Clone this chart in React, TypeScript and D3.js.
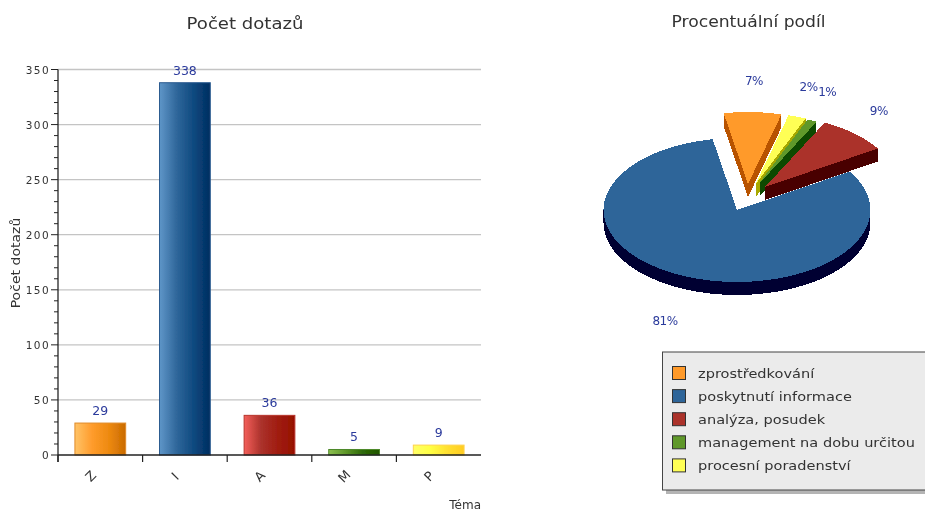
import React from "react";
import * as d3 from "d3";

const categories = ["Z", "I", "A", "M", "P"];
const counts = [29, 338, 36, 5, 9];
const themes = ["zprostředkování", "poskytnutí informace", "analýza, posudek", "management na dobu určitou", "procesní poradenství"];
const yTicks = [0, 50, 100, 150, 200, 250, 300, 350];
const minorTicks = d3.range(0, 351, 10);

const topColors = ["#ff9a2a", "#2e6599", "#ab322c", "#5f982a", "#ffff55"];
const sideColors = ["#b85200", "#000033", "#4a0000", "#0c4a00", "#a8a800"];
const barBorders = ["#e08a28", "#2a5a90", "#b8352c", "#4f8a2a", "#ffd24d"];
const barGradients = [
  ["#ffc468", "#ff9c2c", "#ee8a10", "#c96a00"],
  ["#5f96c8", "#30679b", "#0f4a80", "#002d60"],
  ["#f4605a", "#ab322c", "#a01c10", "#961000"],
  ["#8cc050", "#5f982a", "#2f6a08", "#1f5500"],
  ["#ffff66", "#ffff44", "#ffe030", "#ffcc22"],
];

// clockwise order in which the slices are laid out, from the top
const pieOrder = [0, 4, 3, 2, 1];
const explodeX = [11, 0, 28, 20, 18];
const explodeY = [-26, 0, -23, -24, -25];

const plot = { left: 58, right: 481, top: 69.5, bottom: 455 };
const pieGeom = { cx: 737, cy: 210, rx: 133.5, ry: 72, depth: 13, start: (-10.5 * Math.PI) / 180 };

const x = d3.scaleBand<string>().domain(categories).range([plot.left, plot.right]).paddingInner(0.4).paddingOuter(0.2);
const y = d3.scaleLinear().domain([0, 350]).range([plot.bottom, plot.top]);
const step = x.step();

const font = "'DejaVu Sans', sans-serif";
const total = d3.sum(counts);
const pieArcs = d3
  .pie<number>()
  .sort(null)
  .value((i) => counts[i])
  .startAngle(pieGeom.start)
  .endAngle(pieGeom.start + 2 * Math.PI)(pieOrder);
const arcPath = d3.arc<d3.PieArcDatum<number>>().innerRadius(0).outerRadius(pieGeom.rx);

export default function App() {
  const { cx, cy, rx, ry, depth } = pieGeom;
  return (
    <svg width={925} height={511} style={{ position: "absolute", left: 0, top: 0, display: "block", background: "#fff" }} fontFamily={font}>
      <defs>
        {barGradients.map((g, i) => (
          <linearGradient id={`bar${i}`} key={i} x1="0" x2="1" y1="0" y2="0">
            {g.map((c, j) => (
              <stop key={j} offset={j / (g.length - 1)} stopColor={c} />
            ))}
          </linearGradient>
        ))}
        <filter id="soft" x="-5%" y="-5%" width="110%" height="110%">
          <feGaussianBlur stdDeviation="0.35" />
        </filter>
      </defs>

      <g filter="url(#soft)">
        <text transform="translate(245,29) scale(1.13,1)" textAnchor="middle" fontSize={16} fill="#333">Počet dotazů</text>
        <text transform="translate(748.5,27) scale(1.11,1)" textAnchor="middle" fontSize={15.5} fill="#333">Procentuální podíl</text>

        {yTicks.filter((t) => t > 0).map((t) => (
          <line key={t} x1={plot.left} x2={plot.right} y1={y(t)} y2={y(t)} stroke="#c4c4c4" strokeWidth={1.3} />
        ))}

        {categories.map((c, i) => (
          <g key={c}>
            <rect x={x(c)} y={y(counts[i])} width={x.bandwidth()} height={plot.bottom - y(counts[i])} fill={`url(#bar${i})`} stroke={barBorders[i]} strokeWidth={1} />
            <text x={x(c)! + x.bandwidth() / 2} y={y(counts[i]) - 8} textAnchor="middle" fontSize={12.5} fill="#2b3a9c">{counts[i]}</text>
          </g>
        ))}

        <line x1={plot.left} x2={plot.left} y1={plot.top} y2={plot.bottom + 7} stroke="#222" strokeWidth={1.3} />
        <line x1={plot.left} x2={plot.right} y1={plot.bottom} y2={plot.bottom} stroke="#222" strokeWidth={1.3} />
        {minorTicks.map((t) => (
          <line key={t} x1={t % 50 === 0 ? plot.left - 7 : plot.left - 4} x2={plot.left} y1={y(t)} y2={y(t)} stroke="#222" strokeWidth={1} />
        ))}
        {yTicks.map((t) => (
          <text key={t} x={50} y={y(t) + 4} textAnchor="end" fontSize={10.5} letterSpacing={1.4} fill="#333">{t}</text>
        ))}
        {categories.map((c) => (
          <g key={c}>
            <line x1={x(c)! - (step - x.bandwidth()) / 2} x2={x(c)! - (step - x.bandwidth()) / 2} y1={plot.bottom} y2={plot.bottom + 7} stroke="#222" strokeWidth={1.2} />
            <text transform={`translate(${x(c)! + x.bandwidth() / 2 - 9},${plot.bottom + 22}) rotate(-45)`} textAnchor="middle" dominantBaseline="middle" fontSize={13} fill="#333">{c}</text>
          </g>
        ))}
        <text x={481} y={508.5} textAnchor="end" fontSize={12} fill="#333">Téma</text>
        <text transform="translate(20,263) rotate(-90) scale(1.17,1)" textAnchor="middle" fontSize={12} fill="#333">Počet dotazů</text>

        <g shapeRendering="crispEdges">
          {[1, 0, 4, 3, 2].map((i) => {
            const a = pieArcs.find((p) => p.data === i)!;
            const ox = cx + explodeX[i];
            const oy = cy + explodeY[i];
            const d = arcPath(a)!;
            return (
              <g key={i}>
                {d3.range(depth, 0, -1).map((k) => (
                  <path key={k} d={d} transform={`translate(${ox},${oy + k}) scale(1,${ry / rx})`} fill={sideColors[i]} />
                ))}
                <path d={d} transform={`translate(${ox},${oy}) scale(1,${ry / rx})`} fill={topColors[i]} />
              </g>
            );
          })}
        </g>
        {pieArcs.map((a) => {
          const i = a.data;
          const mid = (a.startAngle + a.endAngle) / 2;
          const c = Math.cos(mid);
          const lx = cx + explodeX[i] + 1.27 * rx * Math.sin(mid) * (c < 0 ? 1.06 : 1);
          const ly = cy + explodeY[i] - 1.43 * ry * c + (c < 0 ? depth + 4 : 0);
          return (
            <text key={i} x={lx} y={ly + 4} textAnchor="middle" fontSize={12} letterSpacing={-0.5} fill="#2b3a9c">
              {d3.format(".0f")((counts[i] / total) * 100)}%
            </text>
          );
        })}

        <rect x={666} y={356} width={270} height={138} fill="#b4b4b4" />
        <rect x={662.5} y={352} width={270} height={138} fill="#ebebeb" stroke="#444" strokeWidth={1} />
        {themes.map((t, i) => {
          const ly = 373 + i * 23.1;
          return (
            <g key={t}>
              <rect x={672.5} y={ly - 6.5} width={13} height={13} fill={topColors[i]} stroke="#333" strokeWidth={1} />
              <text transform={`translate(698,${ly + 4.5}) scale(1.12,1)`} fontSize={13} fill="#333">{t}</text>
            </g>
          );
        })}
      </g>
    </svg>
  );
}
